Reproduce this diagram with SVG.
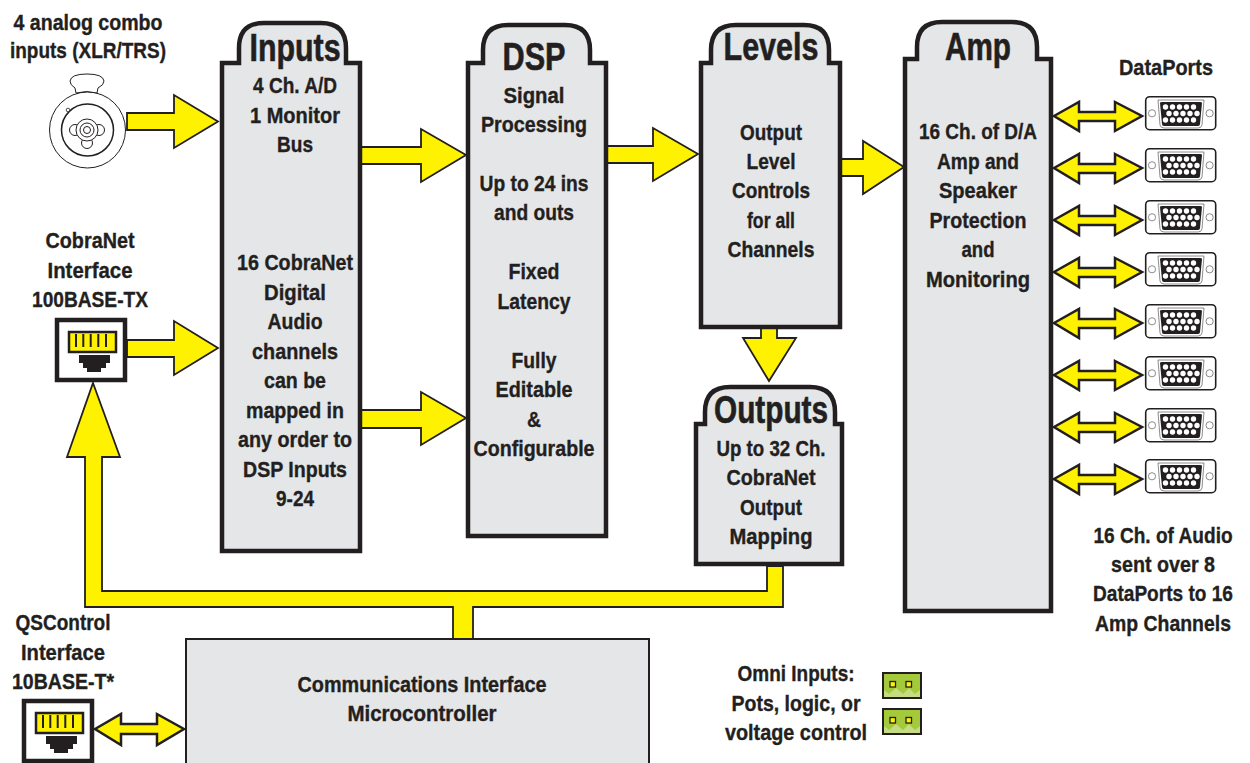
<svg xmlns="http://www.w3.org/2000/svg" xmlns:xlink="http://www.w3.org/1999/xlink" width="1250" height="763" viewBox="0 0 1250 763">
<style>
text{font-family:"Liberation Sans",Arial,sans-serif;font-weight:700;fill:#231f20;stroke:#231f20;stroke-width:.35px;text-anchor:middle;font-size:22px}
.t{font-size:38px;stroke-width:.6px}
.box{fill:#e4e6e8;stroke:#231f20;stroke-width:4.5;stroke-linejoin:miter}
.arr{fill:#fff200;stroke:#231f20;stroke-width:1.8;stroke-linejoin:miter}
.dbl{fill:#fff200;stroke:#231f20;stroke-width:2.5;stroke-linejoin:miter}
.thin{fill:none;stroke:#231f20;stroke-width:1}
</style>
<defs>
<g id="dport">
<rect x="1145.7" y="96.7" width="70" height="33" rx="4" fill="#fff" stroke="#231f20" stroke-width="1.6"/>
<circle cx="1152" cy="113.3" r="3.6" fill="#fff" stroke="#6d6e71" stroke-width=".8"/>
<circle cx="1209.6" cy="113.3" r="3.6" fill="#fff" stroke="#6d6e71" stroke-width=".8"/>
<path d="M1158 100H1204L1202 125Q1201.500 128 1198 128H1164Q1160.500 128 1160 125Z" fill="#fff" stroke="#6d6e71" stroke-width=".8"/>
<path d="M1160 103Q1160 102 1162 102H1200Q1202 102 1202 103L1200 124Q1200 126 1198 126H1164Q1162 126 1162 124Z" fill="#231f20"/>
<g fill="#fff">
<circle cx="1165.500" cy="107" r="2.700"/><circle cx="1172.500" cy="107" r="2.700"/><circle cx="1179.500" cy="107" r="2.700"/><circle cx="1186.500" cy="107" r="2.700"/><circle cx="1193.500" cy="107" r="2.700"/>
<circle cx="1169" cy="113.500" r="2.700"/><circle cx="1176" cy="113.500" r="2.700"/><circle cx="1183" cy="113.500" r="2.700"/><circle cx="1190" cy="113.500" r="2.700"/><circle cx="1197" cy="113.500" r="2.700"/>
<circle cx="1165.500" cy="120" r="2.700"/><circle cx="1172.500" cy="120" r="2.700"/><circle cx="1179.500" cy="120" r="2.700"/><circle cx="1186.500" cy="120" r="2.700"/><circle cx="1193.500" cy="120" r="2.700"/>
</g>
</g>
<polygon id="dbl" class="dbl" points="1054,116 1079,102 1079,112 1115,112 1115,102 1142,116 1115,131 1115,121 1079,121 1079,131"/>
<g id="rj">
<rect x="0" y="0" width="68" height="60" fill="#fff" stroke="#231f20" stroke-width="4.500"/>
<rect x="12" y="12" width="47" height="20" fill="#fff200" stroke="#231f20" stroke-width="2.500"/>
<path d="M19 14v13M26.300 14v13M33.700 14v13M41.300 14v13M49 14v13" fill="none" stroke="#231f20" stroke-width="2"/>
<path d="M22 35H53V43H49V48H44V52H30V48H26V43H22Z" fill="#231f20"/>
</g>
<g id="omni">
<rect x="883" y="673" width="38" height="25" fill="#a4c93a" stroke="#231f20" stroke-width="2"/>
<path d="M884 697V690L889 694L896 688L903 694L909 688L915 694L920 690V697Z" fill="#c5dc83"/>
<rect x="890" y="681.500" width="5.500" height="5.500" fill="#fff200" stroke="#231f20" stroke-width="1.300"/>
<rect x="906" y="681.500" width="5.500" height="5.500" fill="#fff200" stroke="#231f20" stroke-width="1.300"/>
</g>
</defs>

<g id="connectors">
<polygon class="arr" points="127,113 174,113 174,95 218,121.500 174,148 174,130 127,130"/>
<polygon class="arr" points="127,340 174,340 174,321 218,348 174,375 174,357 127,357"/>
<polygon class="arr" points="360,147 421,147 421,129 466,155 421,182 421,164 360,164"/>
<polygon class="arr" points="360,410 421,410 421,392 466,418 421,445 421,428 360,428"/>
<polygon class="arr" points="606,146 653,146 653,128 698,154 653,181 653,163 606,163"/>
<polygon class="arr" points="840,159 863,159 863,141 904,167 863,194 863,176 840,176"/>
<polygon class="arr" points="761,327 777,327 777,338 796,338 769,381 743,338 761,338"/>
<polygon class="arr" points="93,383 120,457 102,457 102,591 767,591 767,566 783,566 783,607 473,607 473,639 453,639 453,607 85,607 85,457 67,457"/>
<use xlink:href="#dbl" href="#dbl"/>
<use xlink:href="#dbl" href="#dbl" y="52"/>
<use xlink:href="#dbl" href="#dbl" y="104"/>
<use xlink:href="#dbl" href="#dbl" y="156"/>
<use xlink:href="#dbl" href="#dbl" y="207"/>
<use xlink:href="#dbl" href="#dbl" y="259"/>
<use xlink:href="#dbl" href="#dbl" y="311"/>
<use xlink:href="#dbl" href="#dbl" y="363"/>
<polygon class="dbl" points="95,729 121,714 121,724 157,724 157,714 184,729 157,745 157,734 121,734 121,745"/>
</g>

<g id="node-inputs">
<path class="box" d="M222 551V63H239V48Q239 23 264 23H321Q346 23 346 48V63H360V551Z"/>
<text class="t" x="295" y="61" textLength="91" lengthAdjust="spacingAndGlyphs">Inputs</text>
<text x="295" y="93" textLength="84" lengthAdjust="spacingAndGlyphs">4 Ch. A/D</text><text x="295" y="123" textLength="90" lengthAdjust="spacingAndGlyphs">1 Monitor</text><text x="295" y="152" textLength="36" lengthAdjust="spacingAndGlyphs">Bus</text>
<text x="295" y="270" textLength="116" lengthAdjust="spacingAndGlyphs">16 CobraNet</text><text x="295" y="300" textLength="62" lengthAdjust="spacingAndGlyphs">Digital</text><text x="295" y="329" textLength="55" lengthAdjust="spacingAndGlyphs">Audio</text><text x="295" y="359" textLength="86" lengthAdjust="spacingAndGlyphs">channels</text><text x="295" y="388" textLength="62" lengthAdjust="spacingAndGlyphs">can be</text><text x="295" y="418" textLength="98" lengthAdjust="spacingAndGlyphs">mapped in</text><text x="295" y="447" textLength="114" lengthAdjust="spacingAndGlyphs">any order to</text><text x="295" y="477" textLength="104" lengthAdjust="spacingAndGlyphs">DSP Inputs</text><text x="295" y="506" textLength="38" lengthAdjust="spacingAndGlyphs">9-24</text>
</g>
<g id="node-dsp">
<path class="box" d="M468 536V63H483V50Q483 25 508 25H565Q590 25 590 50V63H606V536Z"/>
<text class="t" x="534" y="70" textLength="63" lengthAdjust="spacingAndGlyphs">DSP</text>
<text x="534" y="103" textLength="61" lengthAdjust="spacingAndGlyphs">Signal</text><text x="534" y="132" textLength="106" lengthAdjust="spacingAndGlyphs">Processing</text>
<text x="534" y="191" textLength="109" lengthAdjust="spacingAndGlyphs">Up to 24 ins</text><text x="534" y="220" textLength="80" lengthAdjust="spacingAndGlyphs">and outs</text>
<text x="534" y="279" textLength="51" lengthAdjust="spacingAndGlyphs">Fixed</text><text x="534" y="309" textLength="73" lengthAdjust="spacingAndGlyphs">Latency</text>
<text x="534" y="368" textLength="45" lengthAdjust="spacingAndGlyphs">Fully</text><text x="534" y="397" textLength="77" lengthAdjust="spacingAndGlyphs">Editable</text><text x="534" y="427" textLength="14" lengthAdjust="spacingAndGlyphs">&amp;</text><text x="534" y="456" textLength="121" lengthAdjust="spacingAndGlyphs">Configurable</text>
</g>
<g id="node-levels">
<path class="box" d="M701 327V63H711V50Q711 25 736 25H804Q829 25 829 50V63H840V327Z"/>
<text class="t" x="771" y="60" textLength="95" lengthAdjust="spacingAndGlyphs">Levels</text>
<text x="771" y="140" textLength="62" lengthAdjust="spacingAndGlyphs">Output</text><text x="771" y="169" textLength="49" lengthAdjust="spacingAndGlyphs">Level</text><text x="771" y="198" textLength="78" lengthAdjust="spacingAndGlyphs">Controls</text><text x="771" y="228" textLength="48" lengthAdjust="spacingAndGlyphs">for all</text><text x="771" y="257" textLength="87" lengthAdjust="spacingAndGlyphs">Channels</text>
</g>
<g id="node-amp">
<path class="box" d="M905 611V59H917V47Q917 22 942 22H1012Q1037 22 1037 47V59H1051V611Z"/>
<text class="t" x="978" y="60" textLength="66" lengthAdjust="spacingAndGlyphs">Amp</text>
<text x="978" y="139" textLength="118" lengthAdjust="spacingAndGlyphs">16 Ch. of D/A</text><text x="978" y="169" textLength="82" lengthAdjust="spacingAndGlyphs">Amp and</text><text x="978" y="198" textLength="78" lengthAdjust="spacingAndGlyphs">Speaker</text><text x="978" y="228" textLength="97" lengthAdjust="spacingAndGlyphs">Protection</text><text x="978" y="257" textLength="33" lengthAdjust="spacingAndGlyphs">and</text><text x="978" y="287" textLength="104" lengthAdjust="spacingAndGlyphs">Monitoring</text>
</g>
<g id="node-outputs">
<path class="box" d="M696 564V424H705V412Q705 387 730 387H810Q835 387 835 412V424H842V564Z"/>
<text class="t" x="771" y="423" textLength="114" lengthAdjust="spacingAndGlyphs">Outputs</text>
<text x="771" y="456" textLength="109" lengthAdjust="spacingAndGlyphs">Up to 32 Ch.</text><text x="771" y="485" textLength="89" lengthAdjust="spacingAndGlyphs">CobraNet</text><text x="771" y="515" textLength="62" lengthAdjust="spacingAndGlyphs">Output</text><text x="771" y="544" textLength="83" lengthAdjust="spacingAndGlyphs">Mapping</text>
</g>
<g id="node-comm">
<rect x="186" y="639" width="463" height="130" fill="#e4e6e8" stroke="#231f20" stroke-width="2"/>
<text x="422" y="692" textLength="249" lengthAdjust="spacingAndGlyphs">Communications Interface</text><text x="422" y="721" textLength="149" lengthAdjust="spacingAndGlyphs">Microcontroller</text>
</g>
<g id="node-xlr">
<text x="88" y="30" textLength="149" lengthAdjust="spacingAndGlyphs">4 analog combo</text><text x="88" y="58" textLength="156" lengthAdjust="spacingAndGlyphs">inputs (XLR/TRS)</text>
<circle cx="87.500" cy="130" r="38" fill="#fff" stroke="#231f20" stroke-width="1"/>
<path d="M76 93L75 88Q70 85 70 81Q71 74 87 74Q103 74 104 81Q104 85 98 88L97 93Q87 90 76 93Z" fill="#fff" stroke="#231f20" stroke-width="1"/>
<circle cx="87.500" cy="130" r="26" fill="#fff" stroke="#231f20" stroke-width="1.500"/>
<circle cx="68" cy="110" r="1.800" fill="#fff" stroke="#231f20" stroke-width=".8"/>
<circle cx="75" cy="130" r="5.500" class="thin"/><circle cx="99" cy="130" r="5.500" class="thin"/><circle cx="87" cy="143" r="5.500" class="thin"/>
<circle cx="87" cy="130" r="11" fill="#fff" stroke="#231f20" stroke-width="1"/>
<circle cx="87" cy="130" r="7" class="thin"/><circle cx="87" cy="130" r="3.500" class="thin"/>
</g>
<g id="node-cobranet">
<text x="90" y="248" textLength="89" lengthAdjust="spacingAndGlyphs">CobraNet</text><text x="90" y="278" textLength="85" lengthAdjust="spacingAndGlyphs">Interface</text><text x="90" y="307" textLength="116" lengthAdjust="spacingAndGlyphs">100BASE-TX</text>
<use xlink:href="#rj" href="#rj" x="57" y="320"/>
</g>
<g id="node-qscontrol">
<text x="63" y="630" textLength="95" lengthAdjust="spacingAndGlyphs">QSControl</text><text x="63" y="660" textLength="84" lengthAdjust="spacingAndGlyphs">Interface</text><text x="63" y="689" textLength="102" lengthAdjust="spacingAndGlyphs">10BASE-T*</text>
<use xlink:href="#rj" href="#rj" x="24" y="701"/>
</g>
<g id="node-dataports">
<text x="1166" y="75" textLength="94" lengthAdjust="spacingAndGlyphs">DataPorts</text>
<use xlink:href="#dport" href="#dport"/>
<use xlink:href="#dport" href="#dport" y="52"/>
<use xlink:href="#dport" href="#dport" y="104"/>
<use xlink:href="#dport" href="#dport" y="156"/>
<use xlink:href="#dport" href="#dport" y="208"/>
<use xlink:href="#dport" href="#dport" y="260"/>
<use xlink:href="#dport" href="#dport" y="312"/>
<use xlink:href="#dport" href="#dport" y="363"/>
<text transform="translate(1163 543) scale(.868 1)">16 Ch. of Audio</text><text x="1163" y="572" textLength="104" lengthAdjust="spacingAndGlyphs">sent over 8</text><text transform="translate(1163 601) scale(.868 1)">DataPorts to 16</text><text x="1163" y="631" textLength="136" lengthAdjust="spacingAndGlyphs">Amp Channels</text>
</g>
<g id="node-omni">
<text x="796" y="681" textLength="117" lengthAdjust="spacingAndGlyphs">Omni Inputs:</text><text x="796" y="711" textLength="129" lengthAdjust="spacingAndGlyphs">Pots, logic, or</text><text x="796" y="740" textLength="142" lengthAdjust="spacingAndGlyphs">voltage control</text>
<use xlink:href="#omni" href="#omni"/>
<use xlink:href="#omni" href="#omni" y="36"/>
</g>
</svg>
